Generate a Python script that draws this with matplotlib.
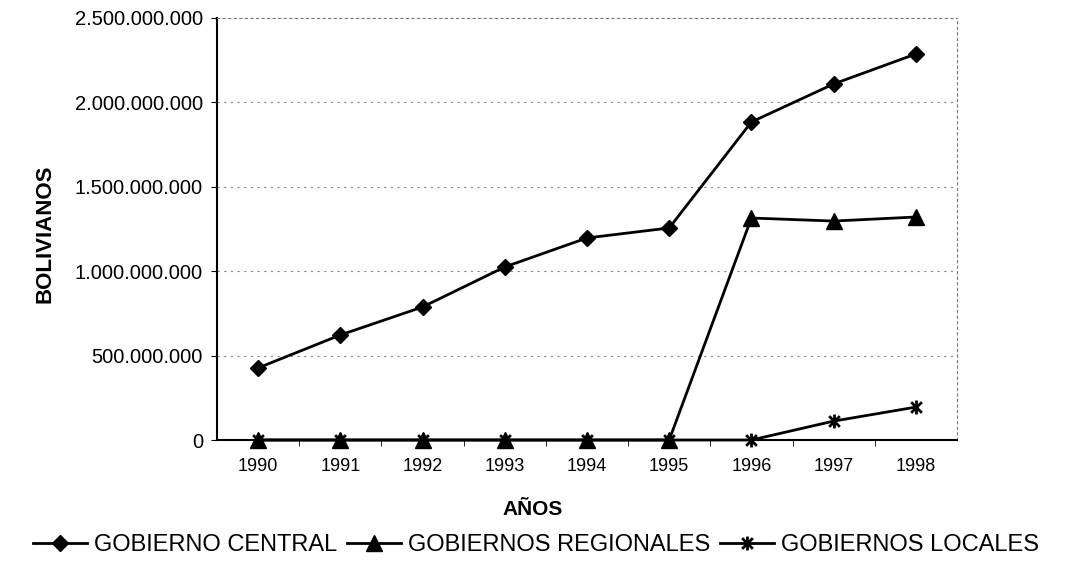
import matplotlib.pyplot as plt
from matplotlib.path import Path
from matplotlib.ticker import FixedLocator

plt.rcParams['font.family'] = ['Liberation Sans', 'DejaVu Sans']

# data
years = [1990, 1991, 1992, 1993, 1994, 1995, 1996, 1997, 1998]
central = [427e6, 622e6, 788e6, 1025e6, 1197e6, 1256e6, 1884e6, 2109e6, 2287e6]
regionales = [0, 0, 0, 0, 0, 0, 1315e6, 1297e6, 1321e6]
locales = [0, 0, 0, 0, 0, 0, 0, 112e6, 195e6]

yticks = [0, 500e6, 1000e6, 1500e6, 2000e6, 2500e6]
ytick_labels = ['0', '500.000.000', '1.000.000.000', '1.500.000.000',
                '2.000.000.000', '2.500.000.000']

# star marker (x with vertical bar)
star = Path([(-1, -1), (1, 1), (-1, 1), (1, -1), (0, -1.3), (0, 1.3)],
            [Path.MOVETO, Path.LINETO, Path.MOVETO, Path.LINETO,
             Path.MOVETO, Path.LINETO])

fig = plt.figure(figsize=(10.72, 5.69), dpi=100)
ax = fig.add_axes([0.2024, 0.2267, 0.6903, 0.7417])

ax.plot(years, central, color='black', lw=2, marker='D', ms=8,
        label='GOBIERNO CENTRAL', clip_on=False)
ax.plot(years, regionales, color='black', lw=2, marker='^', ms=11,
        label='GOBIERNOS REGIONALES', clip_on=False)
ax.plot(years, locales, color='black', lw=2, marker=star, ms=10, mew=2,
        label='GOBIERNOS LOCALES', clip_on=False)

ax.set_xlim(1989.5, 1998.5)
ax.set_ylim(0, 2500e6)
ax.set_xticks(years)
ax.set_xticklabels([str(y) for y in years])
ax.xaxis.set_minor_locator(FixedLocator([y + 0.5 for y in years[:-1]]))
ax.tick_params(axis='x', which='major', length=0, labelsize=13, pad=13)
ax.tick_params(axis='x', which='minor', length=4, direction='out')
ax.set_yticks(yticks)
ax.set_yticklabels(ytick_labels)
ax.tick_params(axis='y', length=4, labelsize=14.5, pad=6)

for y in yticks[1:-1]:
    ax.axhline(y, color='#888888', lw=0.8, ls=(0, (2, 4)), zorder=0)

for s in ['top', 'right']:
    ax.spines[s].set_linestyle((0, (2, 3)))
    ax.spines[s].set_color('#777777')
    ax.spines[s].set_linewidth(0.8)
for s in ['left', 'bottom']:
    ax.spines[s].set_linewidth(1.5)

fig.text(0.042, 0.59, 'BOLIVIANOS', rotation=90, fontsize=16,
         fontweight='bold', ha='center', va='center')
fig.text(0.497, 0.105, 'AÑOS', fontsize=15, fontweight='bold',
         ha='center', va='center')

fig.legend(loc='center', bbox_to_anchor=(0.5, 0.042), ncol=3, frameon=False,
           fontsize=17, handlelength=2.3, handletextpad=0.3, columnspacing=0.4)

fig.savefig('out.png', dpi=100)
